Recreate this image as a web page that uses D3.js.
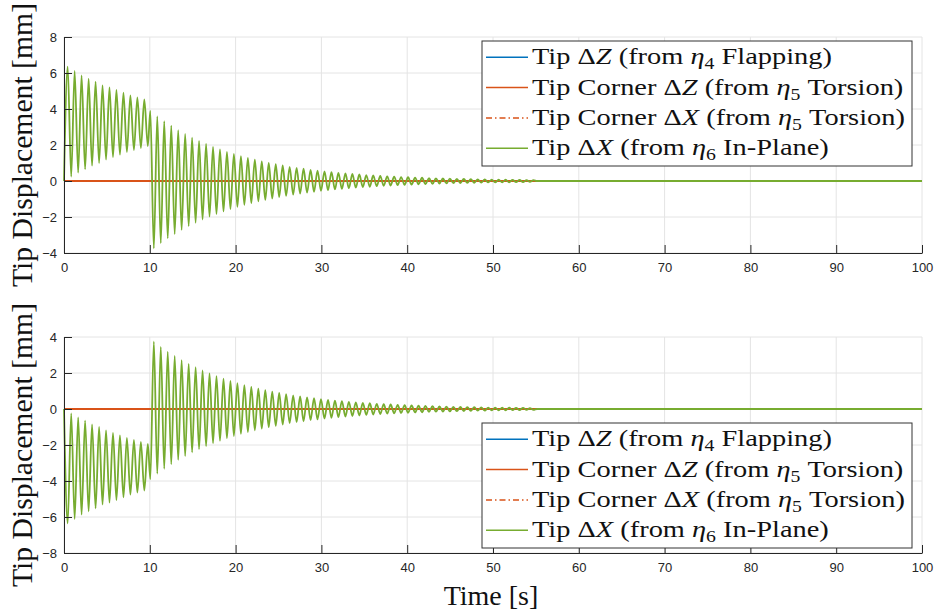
<!DOCTYPE html>
<html>
<head>
<meta charset="utf-8">
<script src="https://cdn.jsdelivr.net/npm/d3@7"></script>
<style>
  body { margin: 0; background: #ffffff; }
  svg { display: block; }
</style>
</head>
<body>
<svg id="chart" width="935" height="613"></svg>
<script>
// Turning points of the in-plane tip response (time in s, displacement in mm)
const time = [
  0, 0.43, 0.84, 1.24, 1.65, 2.05, 2.46, 2.87, 3.27, 3.68, 4.09, 4.49, 4.90, 5.30, 5.71, 6.11, 6.52, 6.93, 7.33, 7.74, 8.15, 8.55, 8.96, 9.36, 9.77,
  10.06, 10.47, 10.87, 11.28, 11.68, 12.09, 12.50, 12.90, 13.31, 13.71, 14.12, 14.53, 14.93, 15.34, 15.74, 16.15, 16.56, 16.96, 17.37, 17.77,
  18.18, 18.59, 18.99, 19.40, 19.80, 20.21, 20.62, 21.02, 21.43, 21.83, 22.24, 22.65, 23.05, 23.46, 23.86, 24.27, 24.68, 25.08, 25.49, 25.89,
  26.30, 26.71, 27.11, 27.52, 27.92, 28.33, 28.74, 29.14, 29.55, 29.95, 30.36, 30.77, 31.17, 31.58, 31.98, 32.39, 32.80, 33.20, 33.61, 34.01,
  34.42, 34.83, 35.23, 35.64, 36.04, 36.45, 36.86, 37.26, 37.67, 38.07, 38.48, 38.89, 39.29, 39.70, 40.10, 40.51, 40.92, 41.32, 41.73, 42.13,
  42.54, 42.95, 43.35, 43.76, 44.16, 44.57, 44.98, 45.38, 45.79, 46.19, 46.60, 47.01, 47.41, 47.82, 48.22, 48.63, 49.04, 49.44, 49.85, 50.25,
  50.66, 51.07, 51.47, 51.88, 52.28, 52.69, 53.10, 53.50, 53.91, 54.31, 54.72, 55.13, 100
];

// Upper panel: Tip ΔX from η6 in-plane mode
const topInPlane = [
  0, 6.35, 0.24, 6.11, 0.46, 5.87, 0.65, 5.68, 0.85, 5.52, 1.00, 5.31, 1.19, 5.20, 1.33, 5.06, 1.46, 4.91, 1.61, 4.76, 1.72, 4.65, 1.83, 4.54, 1.94,
  3.89, -3.74, 3.59, -3.45, 3.32, -3.19, 3.07, -2.95, 2.83, -2.72, 2.61, -2.51, 2.41, -2.32, 2.23, -2.14, 2.06, -1.98, 1.90, -1.83,
  1.76, -1.69, 1.62, -1.56, 1.50, -1.44, 1.38, -1.33, 1.28, -1.23, 1.18, -1.13, 1.09, -1.05, 1.01, -0.97, 0.93, -0.89, 0.86, -0.82,
  0.79, -0.76, 0.73, -0.70, 0.68, -0.65, 0.62, -0.60, 0.58, -0.55, 0.53, -0.51, 0.49, -0.47, 0.45, -0.44, 0.42, -0.40, 0.39, -0.37,
  0.36, -0.34, 0.33, -0.32, 0.31, -0.29, 0.28, -0.27, 0.26, -0.25, 0.24, -0.23, 0.22, -0.21, 0.21, -0.20, 0.19, -0.18, 0.18, -0.17,
  0.16, -0.16, 0.15, -0.14, 0.14, -0.13, 0.13, -0.12, 0.12, -0.11, 0.11, -0.10, 0.10, -0.10, 0.09, -0.09, 0.09, -0.08, 0.08, -0.08,
  0.07, -0.07, 0.07, -0.07, 0.06, -0.06, 0.06, -0.06, 0.05, -0.05, 0.05, 0, 0
];

// Lower panel: Tip ΔX from η6 in-plane mode (opposite load direction)
const bottomInPlane = [
  0, -6.35, -0.24, -6.11, -0.46, -5.87, -0.65, -5.68, -0.85, -5.52, -1.00, -5.31, -1.19, -5.20, -1.33, -5.06, -1.46, -4.91, -1.61, -4.76, -1.72, -4.65, -1.83, -4.54, -1.94,
  -3.89, 3.74, -3.59, 3.45, -3.32, 3.19, -3.07, 2.95, -2.83, 2.72, -2.61, 2.51, -2.41, 2.32, -2.23, 2.14, -2.06, 1.98, -1.90, 1.83,
  -1.76, 1.69, -1.62, 1.56, -1.50, 1.44, -1.38, 1.33, -1.28, 1.23, -1.18, 1.13, -1.09, 1.05, -1.01, 0.97, -0.93, 0.89, -0.86, 0.82,
  -0.79, 0.76, -0.73, 0.70, -0.68, 0.65, -0.62, 0.60, -0.58, 0.55, -0.53, 0.51, -0.49, 0.47, -0.45, 0.44, -0.42, 0.40, -0.39, 0.37,
  -0.36, 0.34, -0.33, 0.32, -0.31, 0.29, -0.28, 0.27, -0.26, 0.25, -0.24, 0.23, -0.22, 0.21, -0.21, 0.20, -0.19, 0.18, -0.18, 0.17,
  -0.16, 0.16, -0.15, 0.14, -0.14, 0.13, -0.13, 0.12, -0.12, 0.11, -0.11, 0.10, -0.10, 0.10, -0.09, 0.09, -0.09, 0.08, -0.08, 0.08,
  -0.07, 0.07, -0.07, 0.07, -0.06, 0.06, -0.06, 0.06, -0.05, 0.05, -0.05, 0, 0
];

// Flapping and torsion responses stay at zero over the whole run
const zeroTime = [0, 100];
const flapTipZ = [0, 0];
const torsionCornerZ = [0, 0];
const torsionCornerX = [0, 0];

const xTicks = [0, 10, 20, 30, 40, 50, 60, 70, 80, 90, 100];
const topYTicks = [-4, -2, 0, 2, 4, 6, 8];
const bottomYTicks = [-8, -6, -4, -2, 0, 2, 4];

const seriesNames = [
  [["Tip \u0394", ""], ["Z", "i"], [" (from ", ""], ["\u03B7", "i"], ["4", "s"], [" Flapping)", ""]],
  [["Tip Corner \u0394", ""], ["Z", "i"], [" (from ", ""], ["\u03B7", "i"], ["5", "s"], [" Torsion)", ""]],
  [["Tip Corner \u0394", ""], ["X", "i"], [" (from ", ""], ["\u03B7", "i"], ["5", "s"], [" Torsion)", ""]],
  [["Tip \u0394", ""], ["X", "i"], [" (from ", ""], ["\u03B7", "i"], ["6", "s"], [" In-Plane)", ""]]
];
const seriesColors = ["#0072BD", "#D95319", "#D95319", "#77AC30"];
const seriesDash = [null, null, "6,3,1.5,3", null];

const svg = d3.select("#chart");
const inkAxis = "#262626";
const gridColor = "#e4e4e4";
const serif = "'Liberation Serif', 'Times New Roman', serif";
const sans = "'Liberation Sans', Arial, sans-serif";

const x = d3.scaleLinear().domain([0, 100]).range([64, 922]);

function drawPanel(yDomain, yRange, yTicks, inPlane, legendTop) {
  const y = d3.scaleLinear().domain(yDomain).range(yRange);
  const g = svg.append("g");

  // grid
  g.append("g").selectAll("line").data(xTicks).join("line")
    .attr("x1", d => x(d)).attr("x2", d => x(d))
    .attr("y1", yRange[1]).attr("y2", yRange[0])
    .attr("stroke", gridColor).attr("stroke-width", 1);
  g.append("g").selectAll("line").data(yTicks).join("line")
    .attr("x1", x.range()[0]).attr("x2", x.range()[1])
    .attr("y1", d => y(d)).attr("y2", d => y(d))
    .attr("stroke", gridColor).attr("stroke-width", 1);

  // series, in plotting order
  const lineOf = (xs, ys) => d3.line()
    .x((d, i) => x(xs[i])).y(d => y(d))
    .curve(d3.curveMonotoneX)(ys);
  const drawn = [
    [zeroTime, flapTipZ],
    [zeroTime, torsionCornerZ],
    [zeroTime, torsionCornerX],
    [time, inPlane]
  ];
  drawn.forEach(([xs, ys], i) => {
    g.append("path")
      .attr("d", lineOf(xs, ys))
      .attr("fill", "none")
      .attr("stroke", seriesColors[i])
      .attr("stroke-width", 1.8)
      .attr("stroke-dasharray", seriesDash[i])
      .attr("stroke-linejoin", "round");
  });

  // axes
  const ax = g.append("g").attr("transform", `translate(0,${yRange[0]})`)
    .call(d3.axisBottom(x).tickValues(xTicks).tickSize(-8).tickSizeOuter(0).tickPadding(10));
  const ay = g.append("g").attr("transform", `translate(${x.range()[0]},0)`)
    .call(d3.axisLeft(y).tickValues(yTicks).tickSize(-8).tickSizeOuter(0).tickPadding(7));
  [ax, ay].forEach(a => {
    a.select(".domain").attr("stroke", inkAxis).attr("stroke-width", 1);
    a.selectAll(".tick line").attr("stroke", inkAxis).attr("stroke-width", 1);
    a.selectAll(".tick text").attr("fill", inkAxis)
      .style("font-family", sans).style("font-size", "13px");
  });

  // y label
  svg.append("text")
    .attr("transform", `translate(32,${(yRange[0] + yRange[1]) / 2}) rotate(-90)`)
    .attr("text-anchor", "middle")
    .attr("textLength", 284).attr("lengthAdjust", "spacingAndGlyphs")
    .style("font-family", serif).style("font-size", "29px").attr("fill", "#111")
    .text("Tip Displacement [mm]");

  // legend
  const lx = 482, lw = 430, lh = 125;
  const lg = svg.append("g").attr("transform", `translate(${lx},${legendTop})`);
  lg.append("rect").attr("width", lw).attr("height", lh)
    .attr("fill", "#fff").attr("stroke", "#333").attr("stroke-width", 1);
  const texts = [];
  seriesNames.forEach((parts, i) => {
    const cy = 16.3 + i * 30.3;
    lg.append("line").attr("x1", 4).attr("x2", 46).attr("y1", cy).attr("y2", cy)
      .attr("stroke", seriesColors[i]).attr("stroke-width", 1.5)
      .attr("stroke-dasharray", seriesDash[i]);
    const t = lg.append("text").attr("x", 50).attr("y", cy + 7)
      .style("font-family", serif).style("font-size", "23px").attr("fill", "#111");
    parts.forEach(([s, kind], j) => {
      const ts = t.append("tspan").text(s);
      if (kind === "i") ts.style("font-style", "italic");
      if (kind === "s") ts.style("font-size", "16px").attr("dy", 5);
      if (j > 0 && parts[j - 1][1] === "s") ts.attr("dy", -5);
    });
    texts.push(t);
  });
  return texts;
}

const legendTexts = [
  ...drawPanel([-4, 8], [253, 37], topYTicks, topInPlane, 41),
  ...drawPanel([-8, 4], [553, 337], bottomYTicks, bottomInPlane, 423)
];

// widen the serif legend text to the width of the math typeset labels
const stretch = 300 / legendTexts[0].node().getComputedTextLength();
legendTexts.forEach(t => {
  const w = t.node().getComputedTextLength();
  t.attr("textLength", w * stretch).attr("lengthAdjust", "spacingAndGlyphs");
});

// x label
svg.append("text")
  .attr("x", 491).attr("y", 605)
  .attr("text-anchor", "middle")
  .style("font-family", serif).style("font-size", "28px").attr("fill", "#111")
  .text("Time [s]");
</script>
</body>
</html>
